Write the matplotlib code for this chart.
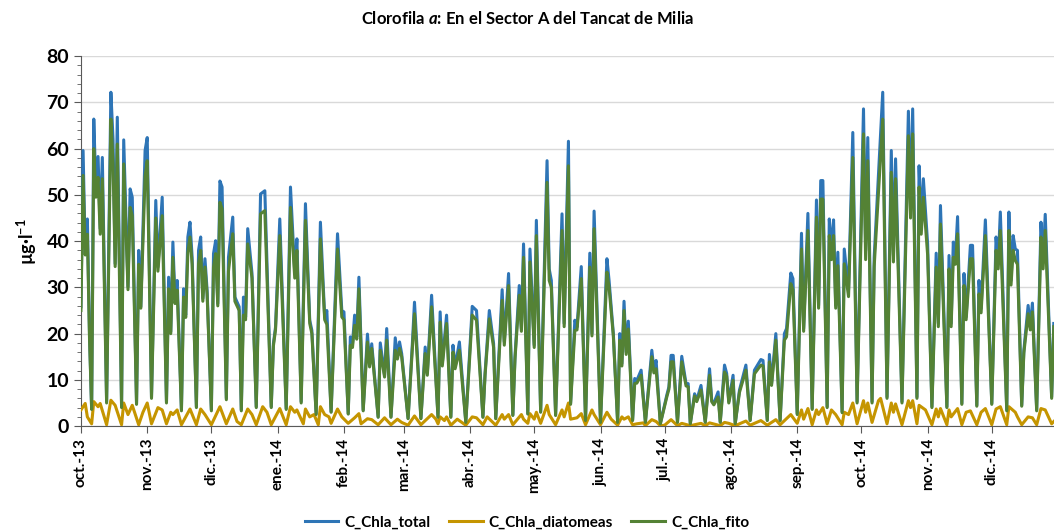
import matplotlib
matplotlib.use("Agg")
import matplotlib.pyplot as plt
import numpy as np
import pandas as pd

plt.rcParams['font.family'] = ['Lato', 'DejaVu Sans']
plt.rcParams['mathtext.fontset'] = 'custom'
plt.rcParams['mathtext.rm'] = 'Lato:bold'
plt.rcParams['mathtext.bf'] = 'Lato:bold'
plt.rcParams['mathtext.it'] = 'Lato:italic:bold'

START = pd.Timestamp("2013-10-01")

# days since 1 Oct 2013 (peaks and troughs)
days = [0, 1, 2, 3, 4, 5, 6, 7, 8, 9, 10, 12, 14, 15, 16, 17, 19, 20, 22, 23, 24, 26, 27, 28, 30, 31, 33, 35, 36, 38,
        40, 41, 42, 43, 44, 45, 47, 48, 49, 50, 51, 52, 54, 55, 56, 57, 58, 59, 61, 62, 63, 64, 65, 66, 68, 69, 71, 72, 74,
        75, 76, 77, 78, 80, 82, 84, 86, 89, 90, 91, 93, 96, 98, 100, 101, 103, 105, 107, 108, 110, 112,
        114, 115, 117, 120, 122, 123, 125, 126, 127, 128, 129, 130, 132, 134, 135, 136, 139, 140, 142, 143, 145, 147, 148, 149, 150,
        153, 155, 156, 159, 161, 162, 164, 167, 168, 169, 171, 173, 174, 175, 177, 180, 183, 185, 188,
        189, 191, 193, 194, 197, 198, 200, 202, 203, 205, 206, 207, 209, 210, 212, 213, 215, 218, 219, 220, 222, 225,
        226, 228, 229, 231, 232, 234, 236, 238, 239, 240, 243, 246, 247, 249, 251, 252, 253, 254, 255, 256, 258, 259, 260, 262,
        264, 267, 268, 269, 271, 274, 275, 276, 277, 279, 281, 283, 284, 285, 287, 288, 290, 292, 294, 295, 296, 298, 299,
        301, 302, 303, 305, 306, 308, 311, 313, 315, 318, 319, 321, 322, 323, 325, 327, 329, 330, 332, 333, 335, 337,
        338, 340, 342, 344, 345, 346, 347, 349, 350, 351, 352, 353, 354, 356, 357, 359, 361, 363, 366, 367, 368, 370, 371, 375,
        377, 379, 380, 381, 384, 387, 388, 389, 391, 392, 393, 394, 396, 398, 400, 401, 402, 405, 406, 407, 408, 409, 410, 412,
        413, 414, 416, 417, 419, 420, 421, 423, 426, 428, 429, 430, 433, 434, 435, 436, 437, 438, 440, 441, 443, 444, 445, 447, 449, 450, 451, 454, 455]

chla_total = [25.8, 59.6, 37.3, 44.8, 20, 3.8, 66.4, 51, 58.3, 42.7, 58.1, 5.3, 72.2, 62, 35.1, 66.8, 4.2, 61.9, 30.1, 51.3, 49.5, 4.9, 38, 25.8, 59.6, 62.4, 6.3, 48.8, 34.4, 49.5,
              5.3, 32.2, 20.4, 39.8, 27.2, 31.5, 3.5, 29.7, 24, 40.9, 44.1, 36.5, 4.2, 38, 40.9, 27.6, 36.2, 29.4, 3.5, 37.3, 40.1, 26.5, 53, 51.7, 6, 36.5, 45.2, 27.9, 25.8,
              3.5, 27.9, 23.6, 42.7, 33, 4.2, 50.2, 50.9, 4.2, 17.8, 21.4, 44.8, 3.8, 51.7, 33, 40.5, 5.3, 48.1, 22.9, 20.7, 2.7, 44.1,
              23.5, 25, 3.1, 41.6, 25, 24.7, 2.7, 19.3, 17.8, 24, 19.3, 32.2, 3.5, 19.9, 13.2, 17.8, 2, 18, 11, 21.1, 2, 19.1, 15, 18.2, 15.7,
              1.7, 17.8, 26.8, 1.7, 17.1, 11.4, 28.3, 2, 24.7, 13.5, 24, 2, 17.5, 12.8, 18.2, 0.9, 25.9, 25, 2,
              11.4, 25, 17.8, 1.7, 29.5, 18.2, 33, 2.4, 15, 30.4, 21.1, 39.4, 2.7, 38.3, 17.5, 44.5, 3.1, 57.4, 34, 31.5, 2.4, 45.9,
              22.2, 61.6, 4.9, 22.9, 21.4, 34.5, 1.3, 37.4, 20, 46.5, 0.9, 36.2, 31.5, 20, 0.9, 20, 13.5, 27, 16, 22.7, 1.3, 10.3, 9.9, 12.1,
              0.9, 16.4, 12.1, 14.2, 0.6, 6.7, 8.5, 15.3, 15.3, 0.9, 15.1, 9.2, 9.2, 0.6, 7, 5.6, 8.8, 0.9, 12.4, 5.6, 4.9, 7.4, 0.9,
              13.2, 11.4, 5.3, 11, 0.6, 7.8, 13.2, 1.3, 12.1, 14.4, 14.2, 1.3, 15.5, 9.2, 20, 1.3, 20, 21.1, 33.1, 31.9, 2.7, 41.7,
              21.1, 46, 3.8, 48.9, 26.1, 53.1, 53.1, 4.2, 44.8, 38, 44.6, 26.1, 37.6, 3.1, 38.3, 29.4, 63.5, 5.3, 68.6, 38, 62.4, 5.3, 36.5, 72.2,
              6.3, 59.6, 36.9, 57.8, 5.3, 68.1, 46.6, 68.6, 6.3, 56.3, 43, 53.5, 39.4, 4.2, 37.4, 22.2, 47.7, 4.2, 36.9, 22.2, 39.8, 36.5, 45.3, 4.9,
              33, 23.6, 39.1, 39.1, 4.5, 31.5, 25.4, 44.6, 4.9, 40.9, 35.1, 46.3, 3.5, 46.3, 31.5, 41.2, 38.3, 38, 4.5, 16.4, 26.1, 21.4, 26.6, 3.5, 44.1, 35.5, 45.8, 6.3, 22.2]

chla_fito = [25, 54.2, 37, 41.5, 19, 3.6, 60, 49.5, 53.8, 41.5, 53.5, 5, 66.4, 57, 34.5, 61, 4, 56.7, 29.5, 47.3, 45.5, 4.7, 35, 25.5, 54, 57.4, 6, 45, 33.5, 45.5,
             5, 29.7, 20, 36.5, 26.5, 29.4, 3.3, 27.9, 23.5, 37.5, 40.9, 35, 4, 35.1, 38, 27, 34.4, 28.5, 3.3, 34.4, 37.3, 26, 48.4, 47, 5.7, 33.5, 41.6, 27, 25,
             3.3, 24, 23, 39.4, 32, 4, 45.9, 46.6, 4, 17.3, 20.8, 41.2, 3.6, 47.3, 32, 38, 5, 44.5, 22.2, 20, 2.5, 40.5,
             23, 22, 3, 38.3, 23.6, 23, 2.6, 17.5, 17, 21.8, 18.8, 29.7, 3.3, 18.2, 12.8, 16.8, 1.9, 16.4, 10.6, 18.6, 1.9, 16.4, 14.5, 16.8, 15,
             1.6, 17, 24.3, 1.6, 15.7, 11, 25.8, 1.9, 22.5, 13, 22.2, 1.9, 16, 12.4, 16.4, 0.8, 24, 22.9, 1.9,
             11, 23.2, 17, 1.6, 27.2, 17.5, 30.4, 2.3, 14.5, 28.3, 20.5, 36.5, 2.6, 35.5, 17, 41.2, 3, 52.7, 31.5, 30, 2.3, 42.3,
             21.5, 56.3, 4.7, 20.7, 20.8, 31.9, 1.2, 34.4, 19.5, 42.7, 0.8, 33.3, 30, 19.5, 0.8, 18.6, 13, 25, 15.5, 21, 1.2, 9.2, 9.3, 11,
             0.8, 15, 11.5, 12.4, 0.5, 6.3, 8, 13.9, 13.9, 0.8, 13.9, 8.7, 8.5, 0.5, 6.5, 5.3, 7.8, 0.8, 11, 5.3, 4.6, 6.3, 0.8,
             11.7, 10.8, 5, 9.9, 0.5, 7.3, 12.1, 1.2, 11.3, 13.2, 13, 1.2, 13.9, 8.8, 18.6, 1.2, 18.6, 19.3, 30.8, 29.5, 2.5, 38.3,
             20.5, 42.3, 3.6, 45.2, 25.5, 49.1, 49.1, 4, 41.2, 36, 41.2, 25.5, 34.7, 2.9, 35.1, 28, 58.1, 5, 63.2, 36, 57.4, 5, 34.5, 66.4,
             6, 54.9, 35.5, 53.5, 5, 62.8, 45, 63.2, 6, 51.7, 41.5, 49.5, 37, 4, 34.4, 21.5, 43.7, 4, 34, 21.5, 36.5, 35, 41.6, 4.7,
             30.4, 23, 36.2, 36.2, 4.3, 28.6, 24.5, 41.2, 4.7, 38, 34, 42.3, 3.3, 42.3, 30.5, 38, 35.8, 35, 4.3, 15.8, 24.3, 20.8, 24.7, 3.3, 40.9, 34, 42.3, 6, 21.5]

diat_days = [0, 2, 3, 5, 6, 8, 9, 12, 14, 16, 19, 20, 22, 24, 27, 29, 31, 33, 36, 38,
             40, 42, 43, 45, 47, 51, 54, 56, 58, 61, 65, 68, 71, 73,
             75, 78, 80, 82, 85, 87, 89, 93, 96, 98, 100, 101, 104, 105, 107, 109, 111, 112,
             114, 116, 117, 120, 122, 125, 128, 130, 131, 134, 136, 139, 142, 145, 148, 150,
             153, 156, 159, 164, 166, 167, 168, 170, 171, 173, 176, 180, 183, 185, 188,
             190, 194, 197, 198, 200, 202, 206, 207, 209, 210, 212, 213, 215, 218, 219, 222, 225,
             226, 228, 229, 232, 234, 236, 239, 240, 243, 246, 248, 251, 253, 254, 256, 258, 260, 263,
             264, 267, 269, 271, 273, 276, 279, 281, 285, 290, 292, 294, 299,
             301, 303, 306, 311, 313, 318, 321, 325, 327, 332, 335, 337,
             338, 340, 342, 344, 345, 347, 349, 351, 353, 356, 357, 359, 361, 363, 366, 367, 368, 370, 373,
             374, 377, 379, 380, 381, 384, 387, 388, 389, 391, 392, 395, 398, 400, 401, 402, 405, 406, 407, 410, 412,
             414, 416, 419, 421, 423, 426, 428, 430, 433, 434, 437, 438, 440, 443, 445, 447, 449, 451, 454, 455]

chla_diatomeas = [3.5, 4.9, 2, 0.5, 5.3, 4.2, 4.9, 0.3, 5.6, 4.5, 0.3, 5, 2.5, 4.5, 0.3, 3, 5, 0.5, 4, 3.5,
                  0.5, 3, 2.5, 3.5, 0.3, 3.7, 0.3, 3.7, 2.5, 0.3, 4.2, 0.5, 3.7, 1,
                  0.3, 3.7, 2.5, 0.3, 4.2, 3, 0.3, 3.8, 0.3, 4.2, 3, 3.5, 0.5, 3.7, 2, 2.5, 0.3, 4.2,
                  2.5, 2, 0.6, 3.7, 2, 0.6, 1.8, 2.7, 0.5, 1.6, 1.4, 0.3, 1.8, 0.3, 1.5, 0.8,
                  0.2, 2.2, 0.3, 2.5, 1.5, 0.5, 2, 1.2, 2, 0.2, 1.5, 0.2, 2, 1.8, 0.3,
                  2, 0.2, 2.5, 1.5, 2.5, 0.3, 2.5, 1.5, 0.6, 2.7, 1.5, 3, 0.6, 4.5, 2.5, 0.3, 3.5,
                  2, 5, 1.5, 1.8, 2.7, 0.3, 3.5, 2.5, 0.3, 3, 1.5, 0.2, 2, 1.5, 2, 0.3, 0.5, 0.7,
                  0.1, 1.4, 1, 0.1, 0.2, 1.4, 0.1, 0.6, 0.1, 0.6, 0.1, 0.7, 0.1,
                  0.8, 0.6, 0.1, 1.1, 0.2, 1.2, 0.2, 1.4, 0.3, 2.5, 0.6, 3.5,
                  1.5, 3.8, 0.3, 3.5, 2.5, 4, 0.5, 3.5, 2.5, 0.3, 3, 2.5, 5, 0.5, 5.5, 3, 5, 0.8, 5.5,
                  6, 0.5, 5, 3, 4.8, 0.3, 5.5, 4, 5.5, 0.5, 4.5, 3.5, 0.3, 3.7, 2, 3.8, 0.3, 3.5, 2, 3.8, 0.3,
                  3, 3.3, 0.3, 3, 3.8, 0.3, 3.7, 4.2, 0.3, 4.2, 3, 2, 0.3, 2, 1.8, 0.3, 3.8, 3.5, 0.5, 1]

month_labels = ["oct.-13", "nov.-13", "dic.-13", "ene.-14", "feb.-14", "mar.-14", "abr.-14",
                "may.-14", "jun.-14", "jul.-14", "ago.-14", "sep.-14", "oct.-14", "nov.-14", "dic.-14"]

x_main = START + pd.to_timedelta(days, unit="D")
x_diat = START + pd.to_timedelta(diat_days, unit="D")
month_ticks = pd.date_range(START, periods=len(month_labels), freq="MS")

fig = plt.figure(figsize=(10.54, 5.30), dpi=100)
ax = fig.add_axes([0.0768, 0.196, 0.9232, 0.698])

ax.plot(x_main, chla_total, color="#2E75B6", lw=2.2, label="C_Chla_total", zorder=3)
ax.plot(x_diat, chla_diatomeas, color="#C59500", lw=2.2, label="C_Chla_diatomeas", zorder=4)
ax.plot(x_main, chla_fito, color="#548235", lw=2.2, label="C_Chla_fito", zorder=5)

ax.set_xlim(START, START + pd.Timedelta(days=455.1))
ax.set_ylim(0, 80)
ax.set_yticks(np.arange(0, 81, 10))
ax.set_yticks(np.arange(0, 81, 2), minor=True)
ax.grid(axis="y", color="#D9D9D9", lw=1)
ax.set_axisbelow(True)

ax.set_xticks(month_ticks)
ax.set_xticklabels(month_labels, rotation=90, fontsize=11, fontweight="bold")
for lbl in ax.get_yticklabels():
    lbl.set_fontweight("bold")
    lbl.set_fontsize(14)
ax.tick_params(axis="x", length=5, direction="out", color="#595959")
ax.tick_params(axis="y", which="major", length=5, color="#595959")
ax.tick_params(axis="y", which="minor", length=3, color="#595959")

for s in ["top", "right"]:
    ax.spines[s].set_visible(False)
ax.spines["left"].set_color("#595959")
ax.spines["bottom"].set_color("#595959")

ax.set_ylabel(r"µg·l$^{-1}$", fontsize=13, fontweight="bold", labelpad=5)
fig.text(0.5, 0.965, r"Clorofila $a$: En el Sector A del Tancat de Milia",
         ha="center", va="center", fontsize=12, fontweight="bold")

fig.legend(loc="lower center", bbox_to_anchor=(0.5, -0.025), ncol=3, frameon=False,
           prop={"weight": "bold", "size": 11}, handlelength=2.2, columnspacing=1.2,
           handletextpad=0.4)

fig.savefig("out.png", dpi=100)
